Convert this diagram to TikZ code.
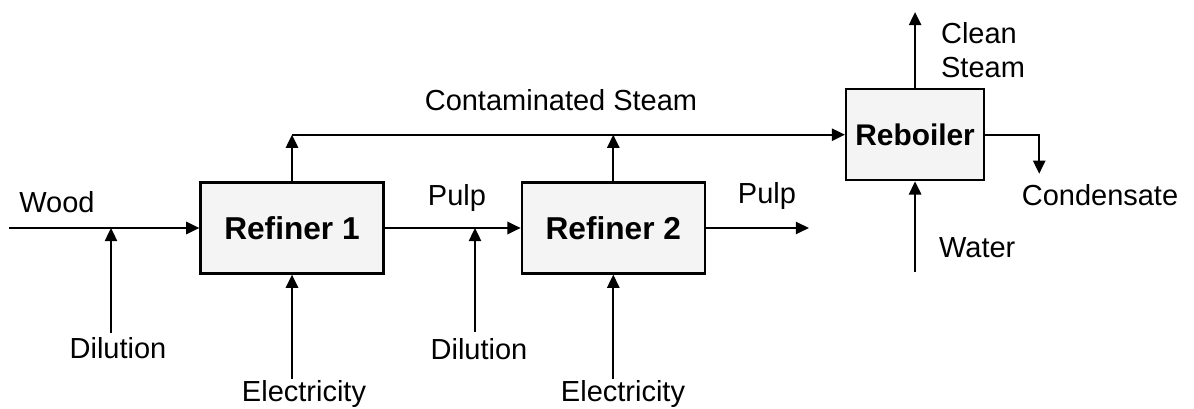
\documentclass[tikz,border=0pt]{standalone}
\usepackage{fontspec}
\setmainfont{Liberation Sans}
\usetikzlibrary{arrows.meta,positioning}

\begin{document}
\begin{tikzpicture}[
    every node/.style={font=\fontsize{16.5}{19.5}\selectfont},
    unit/.style={draw, rectangle, line width=1.3pt, fill=gray!9,
                 minimum width=3.66cm, minimum height=1.82cm, inner sep=0pt,
                 font=\fontsize{18}{20}\selectfont\bfseries},
    flow/.style={-{Triangle[length=7.5pt,width=7pt]}, line width=1.1pt},
    stream/.style={inner sep=1pt},
]
\useasboundingbox (0,0) rectangle (23.88,-8.18);

%% Process units
\node[unit] (ref1) at (5.84,-4.56) {Refiner 1};
\node[unit] (ref2) [right=2.72cm of ref1] {Refiner 2};
\node[unit, minimum width=2.76cm, font=\fontsize{17}{20}\selectfont\bfseries]
    (reb) [above right=0cm and 2.78cm of ref2.north east, anchor=south west] {Reboiler};

%% Free ends of the streams
\coordinate (wood) at (0.18,-4.56);
\coordinate (dil1) at (2.22,-6.66);
\coordinate (dil2) at (9.50,-6.64);
\coordinate[below=2.08cm of ref1.south] (elec1);
\coordinate[below=2.08cm of ref2.south] (elec2);
\coordinate[right=2.06cm of ref2.east] (pulpout);
\coordinate[above=1.52cm of reb.north] (clean);
\coordinate[below=1.82cm of reb.south] (water);
\coordinate[below right=0.78cm and 1.08cm of reb.east] (cond);
\coordinate (steam1) at (ref1.north |- reb.west);
\coordinate (steam2) at (ref2.north |- reb.west);

%% Pulp line
\draw[flow] (wood) -- (ref1.west);
\draw[flow] (dil1) -- (dil1 |- ref1.west);
\draw[flow] (elec1) -- (ref1.south);
\draw[flow] (ref1.east) -- (ref2.west);
\draw[flow] (dil2) -- (dil2 |- ref2.west);
\draw[flow] (elec2) -- (ref2.south);
\draw[flow] (ref2.east) -- (pulpout);

%% Steam side
\draw[flow] (ref1.north) -- (steam1);
\draw[flow] (ref2.north) -- (steam2);
\draw[flow] (steam1) -- (reb.west);
\draw[flow] (reb.north) -- (clean);
\draw[flow] (water) -- (reb.south);
\draw[flow] (reb.east) -| (cond);

%% Stream labels
\node[stream] (lwood)  at (1.14,-4.04) {Wood};
\node[stream] (ldil1)  at (2.36,-6.96) {Dilution};
\node[stream] (lelec1) at (6.08,-7.88) {Electricity};
\node[stream] (lpulp1) at (9.14,-3.96) {Pulp};
\node[stream] (ldil2)  at (9.58,-6.98) {Dilution};
\node[stream] (lelec2) at (12.46,-7.88) {Electricity};
\node[stream] (lpulp2) at (15.34,-3.92) {Pulp};
\node[stream] (lsteam) at (11.22,-2.00) {Contaminated Steam};
\node[stream, anchor=west, align=left] (lclean) at (18.78,-1.00) {Clean\\Steam};
\node[stream] (lcond)  at (22.00,-3.90) {Condensate};
\node[stream, anchor=west] (lwater) at (18.74,-4.96) {Water};

\end{tikzpicture}
\end{document}
